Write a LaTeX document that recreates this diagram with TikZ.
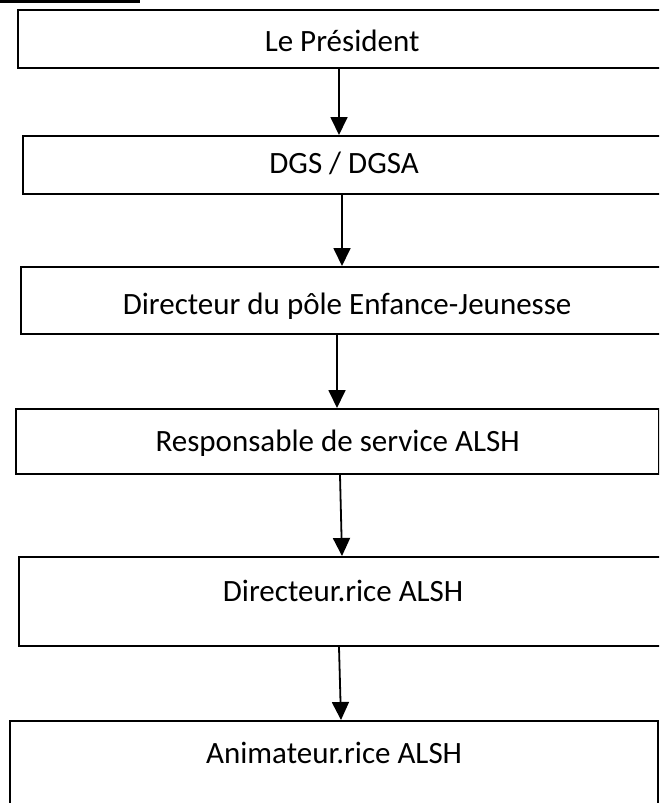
\documentclass[tikz,border=0pt]{standalone}
\usepackage{fontspec}
\setmainfont{Carlito}
\usetikzlibrary{arrows.meta}
\tikzset{
  orgbox/.style={draw=black, line width=2.2pt, rectangle, inner sep=0pt, anchor=north west,
    font=\fontsize{31}{36}\selectfont},
  conn/.style={line width=1.8pt, -{Triangle[width=17pt,length=18pt]}}
}
\begin{document}
\begin{tikzpicture}[x=1pt,y=-1pt]
\useasboundingbox (0,0) rectangle (659,803);
\clip (0,0) rectangle (659,803);
\fill[black] (0,0) rectangle (140,3);
\node[orgbox, minimum width=648, minimum height=58, text height=41, text depth=17] (b1) at (17,9) {Le Président};
\node[orgbox, minimum width=642, minimum height=58, text height=37, text depth=21] (b2) at (22,135) {DGS / DGSA};
\node[orgbox, minimum width=652, minimum height=67, text height=47, text depth=20] (b3) at (20,266) {Directeur du pôle Enfance-Jeunesse};
\node[orgbox, minimum width=643, minimum height=65, text height=42, text depth=23] (b4) at (15,408) {Responsable de service ALSH};
\node[orgbox, minimum width=648, minimum height=89, text height=44, text depth=45] (b5) at (18,556) {Directeur.rice ALSH};
\node[orgbox, minimum width=648, minimum height=110, text height=42, text depth=68] (b6) at (9,720) {Animateur.rice ALSH};
\draw[conn] (b1.south -| 339,0) -- (b2.north -| 339,0);
\draw[conn] (b2.south -| 342,0) -- (b3.north -| 342,0);
\draw[conn] (b3.south -| 337,0) -- (b4.north -| 337,0);
\draw[conn] (b4.south -| 340,0) -- (b5.north -| 342,0);
\draw[conn] (b5.south -| 339,0) -- (b6.north -| 341,0);
\end{tikzpicture}
\end{document}
